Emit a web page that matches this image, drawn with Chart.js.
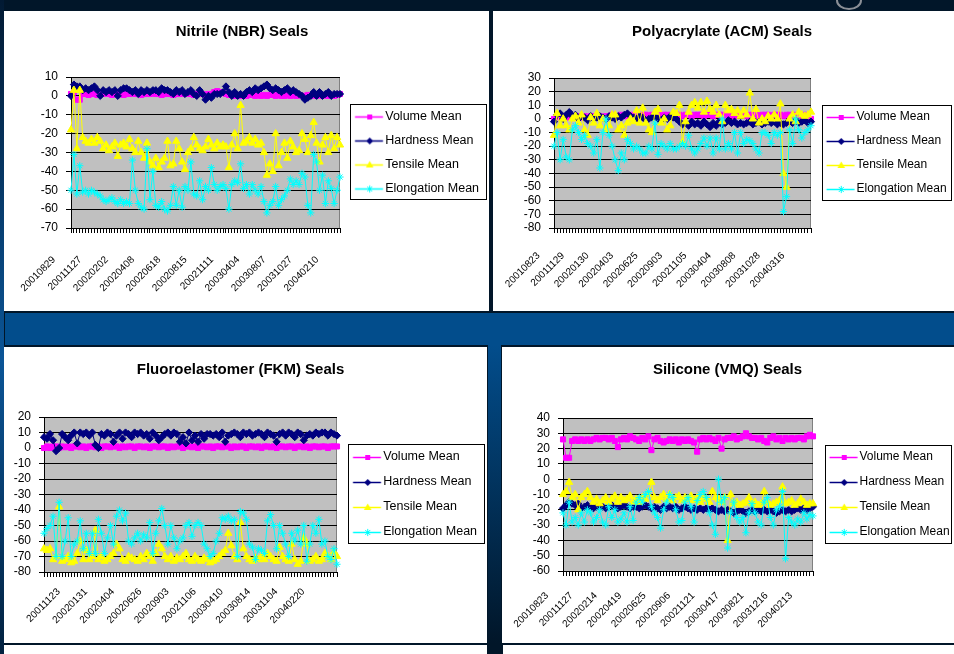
<!DOCTYPE html>
<html>
<head>
<meta charset="utf-8">
<script src="https://cdn.jsdelivr.net/npm/chart.js@4.4.1/dist/chart.umd.min.js"></script>
<style>
  html, body { margin: 0; padding: 0; }
  body { width: 954px; height: 654px; position: relative; overflow: hidden; background: #011629; }
  .blk { position: absolute; }
  .panel { position: absolute; background: #ffffff; }
  canvas { position: absolute; }
</style>
</head>
<body>
<div class="blk" style="left:0;top:0;width:4px;height:654px;background:linear-gradient(#021a33,#0b5597 55%,#02213f)"></div>
<div class="blk" style="left:836px;top:-9px;width:22px;height:15px;border:2px solid #8a8f96;border-radius:50%"></div>
<div class="blk" style="left:5px;top:313px;width:949px;height:32px;background:#024d8c"></div>
<div class="blk" style="left:488px;top:345px;width:13px;height:298px;background:linear-gradient(#024d8c,#011629)"></div>

<div class="panel" style="left:4px;top:11px;width:485px;height:300px"></div>
<div class="panel" style="left:493px;top:11px;width:461px;height:300px"></div>
<div class="panel" style="left:4px;top:347px;width:483px;height:296px"></div>
<div class="panel" style="left:502px;top:347px;width:452px;height:296px"></div>
<div class="panel" style="left:4px;top:645px;width:483px;height:9px"></div>
<div class="panel" style="left:503px;top:645px;width:451px;height:9px"></div>

<canvas id="nbr" width="485" height="300" style="left:4px;top:11px"></canvas>
<canvas id="acm" width="461" height="300" style="left:493px;top:11px"></canvas>
<canvas id="fkm" width="483" height="296" style="left:4px;top:347px"></canvas>
<canvas id="vmq" width="452" height="296" style="left:502px;top:347px"></canvas>

<script>
const FONT = '"Liberation Sans", Arial, Helvetica, sans-serif';

// ---- Nitrile (NBR) seals: mean change per test, % ----
const nbrDates = ['20010829','20011127','20020202','20020408','20020618','20020815','20021111','20030404','20030807','20031027','20040210'];
const nbrVolume = [
  1, 2, -2, -2, 1, 1, 0.5, 1, 1, 0.5,
  1, 1, 1.5, 1, 0.5, 1, 1, 1, 0.5, 1,
  1, 1.5, 1, 1, 0.5, 1, 1, 1, 1.5, 1,
  1, 0.5, 1, 1, 1, 0.5, 1, 1, 1, 1.5,
  1, 1, 0.5, 1, 1, 1, 0.5, 1, 1, 2,
  2.5, 2, 1.5, 1, 0.5, 0.5, 0, 0.5, 0, 0.5,
  0, 0.5, 0.5, 0, 0.5, 0, 0.5, 0, 0.5, 0.5,
  0, 0.5, 0, 0, 0.5, 0, 0.5, 0, 0.5, 0,
  0, 0.5, 0, 0.5, 0, 0.5, 0, 0.5, 0, 0.5,
  0, 0.5, 1];
const nbrHardness = [
  0, 6, 5, 5, 3, 4, 3, 4, 5, 3,
  0, 3, 2, 3, 2, 3, 0, 3, 4, 4,
  3, 2, 3, 1, 3, 2, 3, 2, 3, 3,
  2, 4, 3, 3, 2, 1, 3, 2, 3, 1,
  2, 3, 1, 0, 3, 1, -2, 0, -1, 1,
  1, 1, 2, 5, 2, 0, 2, 0, 1, 0,
  2, 3, 2, 4, 3, 4, 5, 6, 4, 3,
  4, 3, 2, 3, 4, 2, 3, 2, 1, 0,
  -2, -1, 0, 2, 0, 2, 0, 1, 2, 0,
  1, 1, 1];
const nbrTensile = [
  -18, 3, -28, 3, -22, -24, -25, -23, -25, -22,
  -24, -28, -26, -29, -27, -25, -32, -26, -25, -27,
  -23, -28, -30, -24, -30, -33, -25, -35, -37, -33,
  -38, -35, -33, -24, -37, -36, -24, -28, -35, -39,
  -30, -28, -22, -26, -28, -29, -27, -23, -26, -28,
  -25, -27, -26, -27, -38, -26, -20, -28, -5, -25,
  -24, -22, -25, -23, -26, -25, -30, -42, -36, -40,
  -20, -37, -30, -25, -33, -24, -27, -30, -29, -20,
  -23, -30, -21, -14, -25, -35, -26, -22, -30, -21,
  -28, -22, -26];
const nbrElongation = [
  -50, -31, -52, -37, -51, -50, -52, -50, -51, -52,
  -53, -55, -56, -55, -54, -56, -57, -55, -57, -56,
  -57, -34, -50, -57, -59, -60, -28, -55, -40, -58,
  -59, -56, -60, -61, -58, -48, -58, -50, -59, -48,
  -50, -35, -52, -53, -45, -55, -48, -50, -38, -47,
  -50, -48, -47, -49, -60, -47, -45, -46, -36, -49,
  -47, -52, -47, -50, -52, -48, -56, -62, -58, -56,
  -48, -58, -55, -53, -50, -44, -47, -45, -47, -41,
  -43, -58, -62, -31, -35, -50, -42, -57, -45, -49,
  -57, -50, -43];

// ---- Polyacrylate (ACM) seals ----
const acmDates = ['20010823','20011129','20020130','20020403','20020625','20020903','20021105','20030404','20030808','20031028','20040316'];
const acmVolume = [
  0, 2, 1, 2, 1, 2, 1, 2, 2, 1,
  2, 1, 2, 2, 1, 2, 1, 2, 2, 3,
  2, 2, 3, 2, 2, 3, 2, 3, 2, 3,
  3, 2, 3, 3, 3, 2, 3, 3, 2, 3,
  3, 3, 2, 3, 3, 2, 3, 3, 3, 2,
  3, 3, 2, 3, 3, 3, 2, 3, 3, 2,
  3, 3, 3, 2, 3, 3, 3, 2, 3, 3,
  3, 2, 3, 3, 3, 2, 3, 3, 2, 3,
  3, 2, 3, 2, 0];
const acmHardness = [
  -2, 3, 4, 0, 3, 5, 2, 3, 0, 2,
  1, -1, 2, 0, 1, 2, 1, 0, 2, 1,
  0, 2, 1, 3, 4, 2, 1, 0, 2, 1,
  -1, 0, 1, 2, 0, -1, 1, 0, 2, 1,
  0, -2, -4, -3, -5, -2, -4, -3, -5, -2,
  -4, -6, -3, -5, -2, -4, -3, -1, -3, -2,
  -4, -3, -4, -3, -2, -4, -3, -2, -4, -3,
  -2, -3, -2, -4, -3, -4, -3, -2, -3, -1,
  -3, -2, -1, -3, -2];
const acmTensile = [
  -12, 4, -5, 0, -5, -8, 0, 2, -3, 3,
  -8, -12, 1, -3, 4, -5, 0, -8, -5, 3,
  3, -8, -5, -12, -3, 0, -2, 6, -3, 8,
  -3, -8, -10, 5, 7, -3, 0, -8, -5, 5,
  4, 10, -17, -2, 5, 10, 12, 8, 12, 5,
  13, 7, 5, 10, 3, -2, 10, 6, 7, 4,
  6, 2, 6, 3, 19, 0, 7, -3, 0, -2,
  2, 0, 3, 0, 11, -40, -50, 0, 3, -2,
  5, 3, 2, 3, 5];
const acmElongation = [
  -20, -10, -30, -15, -28, -30, -8, -5, -10, -15,
  -12, -18, -20, -25, -15, -36, -10, 0, -12, -20,
  -30, -38, -25, -30, -15, -18, -22, -20, -22, -25,
  -25, -20, -22, -3, -26, -18, -20, -22, -18, -22,
  -22, -20, -18, -20, -12, -22, -25, -22, -18, -14,
  -20, -14, -25, -14, -22, 0, -22, -18, -22, -10,
  -25, -10, -18, -15, -16, -18, -22, -25, -10, -10,
  -12, -18, -10, -12, -10, -68, -57, -8, -18, 0,
  -8, -14, -10, -8, -5];

// ---- Fluoroelastomer (FKM) seals ----
const fkmDates = ['20011123','20020131','20020404','20020626','20020903','20021106','20030410','20030814','20031104','20040220'];
const fkmVolume = [
  0, 1, 0, 1, 1, 0, 1, 0.5, 1, 0,
  1, 1, 0.5, 1, 0, 1, 1, 0.5, 1, 0,
  1, 1, 0.5, 1, 1, 0, 1, 0.5, 1, 1,
  0, 1, 1, 0.5, 1, 0, 1, 1, 0.5, 1,
  1, 0, 1, 0.5, 1, 1, 0, 1, 1, 0.5,
  1, 0, 1, 1, 0.5, 1, 0, 1, 1, 0.5,
  1, 1, 0, 1, 0.5, 1, 1, 0, 1, 1,
  0.5, 1, 0, 1, 1, 0.5, 1, 0, 1, 1,
  0.5, 1, 1, 0, 1, 1, 0.5, 1, 0, 1,
  1, 0.5, 1, 1, 0, 1, 1, 1];
const fkmHardness = [
  7, 6, 9, 5, -2, 0, 9, 7, 5, 8,
  10, 3, 10, 9, 10, 8, 10, 2, 0, 9,
  8, 10, 9, 4, 8, 10, 6, 10, 9, 7,
  10, 9, 10, 8, 9, 6, 10, 8, 5, 7,
  9, 10, 8, 10, 9, 4, 7, 3, 10, 5,
  8, 4, 9, 6, 9, 9, 8, 9, 7, 10,
  4, 8, 9, 10, 9, 7, 10, 9, 10, 8,
  9, 10, 9, 7, 10, 9, 8, 4, 9, 10,
  8, 10, 9, 7, 10, 9, 5, 8, 9, 8,
  10, 9, 10, 10, 8, 10, 9, 8];
const fkmTensile = [
  -65, -66, -65, -72, -70, -38, -73, -72, -70, -74,
  -73, -68, -60, -72, -66, -72, -70, -53, -72, -70,
  -73, -72, -70, -68, -62, -65, -72, -73, -70, -71,
  -72, -73, -70, -72, -68, -70, -73, -68, -62, -65,
  -70, -72, -70, -73, -71, -72, -70, -68, -72, -73,
  -70, -72, -73, -71, -72, -74, -73, -72, -70, -68,
  -66, -55, -63, -70, -72, -48, -65, -70, -72, -73,
  -71, -72, -70, -72, -68, -70, -72, -73, -64, -70,
  -72, -73, -62, -72, -75, -73, -58, -62, -73, -72,
  -70, -73, -72, -68, -70, -72, -67, -70];
const fkmElongation = [
  -55, -52, -50, -44, -70, -35, -70, -60, -45, -70,
  -62, -60, -47, -65, -55, -68, -55, -68, -46, -55,
  -68, -58, -50, -62, -44, -40, -47, -42, -60, -62,
  -58, -55, -60, -56, -58, -48, -68, -55, -47, -39,
  -50, -62, -50, -58, -65, -60, -58, -50, -48, -57,
  -50, -48, -50, -62, -65, -70, -68, -60, -55, -45,
  -46, -44, -47, -46, -70, -41, -42, -46, -62, -64,
  -72, -65, -66, -68, -47, -43, -50, -65, -50, -55,
  -62, -70, -55, -60, -53, -62, -50, -73, -62, -50,
  -55, -46, -62, -60, -70, -72, -65, -75];

// ---- Silicone (VMQ) seals ----
const vmqDates = ['20010823','20011127','20020214','20020419','20020625','20020906','20021121','20030417','20030821','20031216','20040213'];
const vmqVolume = [
  26, 14, 14, 25, 26, 25, 26, 25, 26, 25,
  26, 27, 26, 27, 27, 26, 27, 25, 21, 26,
  27, 26, 28, 27, 26, 25, 27, 26, 28, 19,
  26, 27, 25, 24, 25, 26, 25, 26, 24, 26,
  25, 26, 25, 24, 18, 26, 27, 26, 27, 26,
  25, 27, 20, 26, 27, 27, 28, 26, 27, 28,
  30, 28, 27, 27, 26, 27, 25, 24, 27, 28,
  26, 27, 25, 27, 26, 27, 26, 27, 27, 26,
  28, 29, 28];
const vmqHardness = [
  -19, -17, -15, -16, -17, -16, -19, -18, -17, -18,
  -19, -18, -17, -18, -19, -18, -17, -18, -19, -18,
  -17, -18, -19, -18, -18, -19, -18, -17, -18, -19,
  -18, -19, -20, -18, -19, -18, -19, -18, -20, -19,
  -18, -19, -20, -19, -20, -19, -20, -19, -20, -19,
  -20, -21, -20, -21, -20, -21, -22, -21, -20, -21,
  -22, -21, -20, -21, -20, -21, -20, -21, -20, -21,
  -22, -21, -20, -21, -20, -21, -20, -19, -20, -19,
  -20, -19, -18];
const vmqTensile = [
  -10, -8, -2, -12, -10, -20, -12, -10, -8, -12,
  -15, -13, -16, -14, -12, -15, -13, -11, -15, -12,
  -14, -13, -11, -15, -13, -15, -12, -13, -10, -2,
  -12, -14, -12, -10, -13, -10, -14, -12, -11, -14,
  -12, -13, -11, -14, -12, -15, -12, -13, -15, -8,
  -12, -13, -15, -12, -40, -10, -16, -15, -17, -16,
  -15, -12, -16, -15, -17, -16, -8, -15, -17, -16,
  -15, -14, -5, -16, -15, -14, -17, -16, -13, -15,
  -17, -16, -16];
const vmqElongation = [
  -22, -30, -15, -28, -25, -30, -22, -28, -20, -22,
  -28, -25, -20, -28, -30, -18, -25, -20, -28, -26,
  -22, -28, -18, -27, -15, -12, -15, -10, -8, -18,
  -22, -25, -32, -20, -15, -10, -12, -20, -28, -27,
  -15, -12, -18, -28, -14, -10, -8, -12, -22, -30,
  -36, 0, -15, -12, -45, -22, -15, -25, -28, -25,
  -35, -22, -16, -22, -28, -30, -15, -12, -25, -30,
  -20, -18, -8, -52, -25, -28, -30, -26, -28, -22,
  -26, -23, -24];

const seriesNames = ['Volume Mean', 'Hardness Mean', 'Tensile Mean', 'Elongation Mean'];
const seriesColors = ['#FF00FF', '#000080', '#FFFF00', '#00FFFF'];
const seriesMarkers = ['rect', 'rectRot', 'triangle', 'star'];
const markerRadius = [3.6, 3.6, 4.2, 3.6];

Chart.defaults.font.family = FONT;
Chart.defaults.color = '#000';

// Legend sample: a short line with the series marker in its middle.
const SWATCH_BOX = 27.5;            // width reserved before the legend text
const SWATCH_LINE = [3.5, 31.5];    // line extent relative to the item's left edge
function swatch(color, marker) {
  const w = 48, h = 12;
  const c = document.createElement('canvas');
  c.width = w; c.height = h;
  const g = c.getContext('2d');
  const off = w / 2 - SWATCH_BOX / 2;
  const cy = 6.5;
  g.strokeStyle = color; g.fillStyle = color; g.lineWidth = 1.5;
  g.beginPath(); g.moveTo(off + SWATCH_LINE[0], cy); g.lineTo(off + SWATCH_LINE[1], cy); g.stroke();
  g.lineWidth = 1;
  const cx = Math.round(off + (SWATCH_LINE[0] + SWATCH_LINE[1]) / 2) + 0.5;
  g.beginPath();
  if (marker === 'rect') { g.rect(cx - 2.5, cy - 2.5, 5, 5); g.fill(); }
  else if (marker === 'rectRot') { g.moveTo(cx, cy - 3.5); g.lineTo(cx + 3.5, cy); g.lineTo(cx, cy + 3.5); g.lineTo(cx - 3.5, cy); g.closePath(); g.fill(); }
  else if (marker === 'triangle') { g.moveTo(cx, cy - 4); g.lineTo(cx + 3.8, cy + 2.6); g.lineTo(cx - 3.8, cy + 2.6); g.closePath(); g.fill(); }
  else {
    const r = 3.6, d = r * Math.SQRT1_2;
    g.moveTo(cx - d, cy - d); g.lineTo(cx + d, cy + d);
    g.moveTo(cx - d, cy + d); g.lineTo(cx + d, cy - d);
    g.moveTo(cx, cy - r); g.lineTo(cx, cy + r);
    g.stroke();
  }
  return c;
}
const swatches = seriesColors.map((c, i) => swatch(c, seriesMarkers[i]));

// Grey plot area with a thin grey right edge.
const plotFrame = {
  id: 'plotFrame',
  beforeDraw(chart) {
    const a = chart.chartArea, g = chart.ctx;
    g.save();
    g.fillStyle = '#C0C0C0';
    g.fillRect(a.left, a.top, a.right - a.left, a.bottom - a.top);
    g.strokeStyle = '#808080'; g.lineWidth = 1;
    const xr = Math.round(a.right) - 0.5;
    g.beginPath(); g.moveTo(xr, a.top); g.lineTo(xr, a.bottom); g.stroke();
    g.restore();
  }
};

// Box drawn around the legend entries.
const legendFrame = {
  id: 'legendFrame',
  afterDraw(chart) {
    const boxes = chart.legend && chart.legend.legendHitBoxes;
    if (!boxes || !boxes.length) return;
    let l = Infinity, t = Infinity, r = -Infinity, b = -Infinity;
    boxes.forEach(h => {
      l = Math.min(l, h.left); t = Math.min(t, h.top);
      r = Math.max(r, h.left + h.width); b = Math.max(b, h.top + h.height);
    });
    const x0 = Math.round(l - 1.5) + 0.5, y0 = Math.round(t - 6.5) + 0.5;
    const x1 = Math.min(Math.round(r + 7), chart.width - 3) + 0.5, y1 = Math.round(b + 4.5) + 0.5;
    const g = chart.ctx;
    g.save(); g.strokeStyle = '#000'; g.lineWidth = 1;
    g.strokeRect(x0, y0, x1 - x0, y1 - y0);
    g.restore();
  }
};

function makeChart(id, s) {
  const values = [s.volume, s.hardness, s.tensile, s.elongation];
  const n = Math.max(...values.map(v => v.length));
  const categories = Array.from({ length: n }, (_, i) => i + 1);
  const datasets = values.map((data, i) => ({
    label: seriesNames[i],
    data,
    borderColor: seriesColors[i],
    backgroundColor: seriesColors[i],
    borderWidth: 1,
    pointStyle: seriesMarkers[i],
    pointRadius: markerRadius[i],
    pointHoverRadius: markerRadius[i],
    pointBorderWidth: 1,
    pointBackgroundColor: seriesColors[i],
    pointBorderColor: seriesColors[i],
    tension: 0,
    fill: false,
    order: 4 - i
  }));

  return new Chart(document.getElementById(id), {
    type: 'line',
    data: { labels: categories, datasets },
    plugins: [plotFrame, legendFrame],
    options: {
      responsive: false,
      animation: false,
      events: [],
      layout: { padding: { left: 0, top: 0, bottom: 0, right: s.padR } },
      plugins: {
        tooltip: { enabled: false },
        title: {
          display: true, text: s.title, color: '#000',
          font: { size: 15, weight: 'bold', family: FONT },
          padding: { top: s.titleTop, bottom: s.titleBottom }
        },
        legend: {
          position: 'right', align: 'center', fullSize: false, maxWidth: 140,
          labels: {
            usePointStyle: true, pointStyleWidth: SWATCH_BOX,
            padding: s.legendPad, color: '#000',
            font: { size: s.legendFont, family: FONT },
            generateLabels(chart) {
              const items = Chart.defaults.plugins.legend.labels.generateLabels(chart);
              items.forEach(it => { it.pointStyle = swatches[it.datasetIndex]; });
              return items;
            },
            sort: (a, b) => a.datasetIndex - b.datasetIndex
          }
        }
      },
      scales: {
        x: {
          type: 'category',
          offset: false,
          afterFit(scale) { scale.height = s.xAxisH; },
          grid: { display: true, drawOnChartArea: false, drawTicks: true, tickLength: 5, color: '#000', lineWidth: 1 },
          border: { display: true, color: '#000', width: 1 },
          ticks: {
            autoSkip: false, minRotation: 45, maxRotation: 45,
            color: '#000', font: { size: 10, family: FONT }, padding: s.xLabelPad,
            labelOffset: s.labelOffset,
            callback(value, index) {
              const k = index - s.firstLabel;
              if (k < 0 || k % s.labelEvery) return '';
              return s.dates[k / s.labelEvery] || '';
            }
          }
        },
        y: {
          min: s.yMin, max: s.yMax,
          afterFit(scale) { scale.width = s.yAxisW; },
          grid: { color: '#000', lineWidth: 1, drawTicks: true, tickLength: 5 },
          border: { display: true, color: '#000', width: 1 },
          ticks: { stepSize: 10, autoSkip: false, color: '#000', font: { size: 12, family: FONT }, padding: 8 }
        }
      }
    }
  });
}

makeChart('nbr', {
  title: 'Nitrile (NBR) Seals', volume: nbrVolume, hardness: nbrHardness, tensile: nbrTensile, elongation: nbrElongation,
  dates: nbrDates, labelEvery: 9, firstLabel: 0, labelOffset: -17, xLabelPad: 21, yMin: -70, yMax: 10,
  yAxisW: 67, xAxisH: 83, padR: 9, titleTop: 12, titleBottom: 36, legendPad: 11.5, legendFont: 12.5
});
makeChart('acm', {
  title: 'Polyacrylate (ACM) Seals', volume: acmVolume, hardness: acmHardness, tensile: acmTensile, elongation: acmElongation,
  dates: acmDates, labelEvery: 8, firstLabel: 0, labelOffset: -15.5, xLabelPad: 17, yMin: -80, yMax: 30,
  yAxisW: 61, xAxisH: 83, padR: 3, titleTop: 12, titleBottom: 37, legendPad: 12, legendFont: 12
});
makeChart('fkm', {
  title: 'Fluoroelastomer (FKM) Seals', volume: fkmVolume, hardness: fkmHardness, tensile: fkmTensile, elongation: fkmElongation,
  dates: fkmDates, labelEvery: 9, firstLabel: 9, labelOffset: -12.5, xLabelPad: 9, yMin: -80, yMax: 20,
  yAxisW: 40, xAxisH: 71, padR: 10, titleTop: 14, titleBottom: 38, legendPad: 12.5, legendFont: 12.5
});
makeChart('vmq', {
  title: 'Silicone (VMQ) Seals', volume: vmqVolume, hardness: vmqHardness, tensile: vmqTensile, elongation: vmqElongation,
  dates: vmqDates, labelEvery: 8, firstLabel: 0, labelOffset: -16, xLabelPad: 14, yMin: -60, yMax: 40,
  yAxisW: 61, xAxisH: 72, padR: 1, titleTop: 14, titleBottom: 39, legendPad: 13, legendFont: 12
});
</script>
</body>
</html>
